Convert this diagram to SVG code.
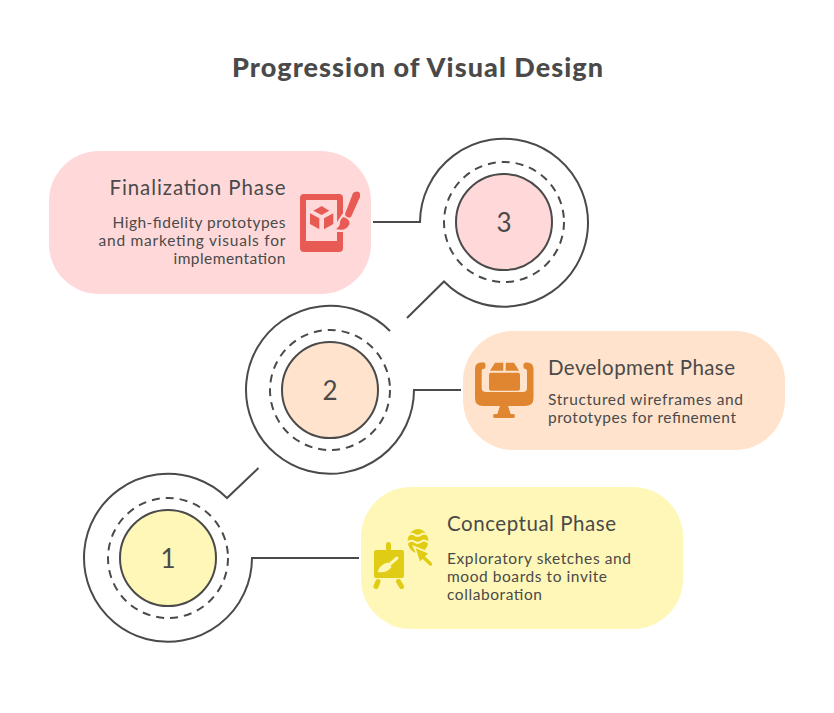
<svg xmlns="http://www.w3.org/2000/svg" width="834" height="713" viewBox="0 0 834 713">
<style>
text{font-family:"Lato","Noto Sans",sans-serif;fill:#4a4a4a}
.title{font-size:27px;font-weight:900;text-anchor:middle}
.head{font-size:20.500px}
.body{font-size:15.500px}
.num{font-size:26px;text-anchor:middle}
.r{text-anchor:end}
.line{fill:none;stroke:#4a4a4a;stroke-width:2}
.dash{fill:none;stroke:#4a4a4a;stroke-width:2;stroke-dasharray:8 6}
.core{stroke:#4a4a4a;stroke-width:2}
</style>
<rect width="834" height="713" fill="#ffffff"/>
<text class="title" x="417.500" y="77" textLength="371">Progression of Visual Design</text>
<g id="connectors">
<path class="line" d="M359 558H252A84 84 0 1 1 227 498L258.500 468"/>
<path class="line" d="M461 390H414A84 84 0 1 1 390 331"/>
<path class="line" d="M373 222H420A84 84 0 1 1 444 281.500L407 318"/>
</g>
<g id="node-1">
<circle class="dash" cx="168" cy="558" r="60"/>
<circle class="core" cx="168" cy="558" r="48" fill="#fff7b8"/>
<text class="num" x="168" y="568">1</text>
</g>
<g id="node-2">
<circle class="dash" cx="330" cy="390" r="60"/>
<circle class="core" cx="330" cy="390" r="48" fill="#ffe3cc"/>
<text class="num" x="330" y="400">2</text>
</g>
<g id="node-3">
<circle class="dash" cx="504" cy="222" r="60"/>
<circle class="core" cx="504" cy="222" r="48" fill="#ffd9d9"/>
<text class="num" x="504" y="232">3</text>
</g>
<g id="card-conceptual">
<rect x="361" y="487" width="322" height="142" rx="50" fill="#fff7b8"/>
<g fill="#e0cc15">
<rect x="374" y="550" width="30" height="28" rx="2"/>
<rect x="386" y="542" width="5" height="9" rx="2.500"/>
<path d="M378 581.500L376 586.500M398.500 581.500L401.500 586.500" stroke="#e0cc15" stroke-width="5" stroke-linecap="round"/>
<path d="M397 558L389 565" stroke="#fff7b8" stroke-width="3" stroke-linecap="round"/>
<path d="M377.500 572Q380 564 388 562.500L391.500 567Q387 573.500 377.500 572Z" fill="#fff7b8"/>
<ellipse cx="418" cy="541" rx="10.300" ry="12"/>
<path d="M407 536Q411 532.500 414 534.500Q418 537.500 422 534Q425 532.500 429 536M407 543Q411 539.500 414 541.500Q418 544.500 422 541Q425 539.500 429 543" fill="none" stroke="#fff7b8" stroke-width="2"/>
<path d="M412 545L432 553L423 568Z" fill="#fff7b8"/>
<path d="M415.700 548.300L428 553.500L420 561.500Z"/>
<path d="M422 556L430.500 564" stroke="#e0cc15" stroke-width="3.500" stroke-linecap="round"/>
</g>
<text class="head" x="447" y="531" textLength="169">Conceptual Phase</text>
<text class="body" x="447" y="564" textLength="184">Exploratory sketches and</text>
<text class="body" x="447" y="582" textLength="160">mood boards to invite</text>
<text class="body" x="447" y="600" textLength="95">collaboration</text>
</g>
<g id="card-development">
<rect x="463" y="331" width="322" height="119" rx="50" fill="#ffe3cc"/>
<g fill="#e08530">
<path d="M475 369Q475 362.500 481 362.500H484Q485.500 362.500 485.500 365V367Q485.500 369 483 369Q481.700 369 481.700 371V388Q481.700 392 486 392H523Q527 392 527 388V371Q527 369 525.500 369Q523.500 369 523.500 367V365Q523.500 362.500 526 362.500H527Q533.500 362.500 533.500 369V398Q533.500 406 525 406H483Q475 406 475 398Z"/>
<path d="M500 406H508L511 415H497Z"/>
<rect x="493" y="414" width="22" height="4" rx="2"/>
<rect x="489" y="372.700" width="31" height="18" rx="2"/>
<path d="M495 362.700H503.300V370.700H490ZM505.700 362.700H514L519 370.700H505.700Z"/>
</g>
<text class="head" x="548" y="375" textLength="187">Development Phase</text>
<text class="body" x="548" y="405" textLength="195">Structured wireframes and</text>
<text class="body" x="548" y="423" textLength="188">prototypes for refinement</text>
</g>
<g id="card-finalization">
<rect x="49" y="151" width="322" height="143" rx="50" fill="#ffd9d9"/>
<g fill="#e85a54">
<path fill-rule="evenodd" d="M304 194H339Q343 194 343 198V248Q343 252 339 252H304Q300 252 300 248V198Q300 194 304 194ZM306 200V241H337V200Z"/>
<path d="M336 212L352 216L344 236L334 232Z" fill="#ffd9d9"/>
<path d="M337 200H343V213L337 222ZM337 232H343V241H337Z"/>
<path d="M353 193Q356 190.500 359 192Q361 194 360 197L351 217Q349.500 218 347 217Q345 216 345 214Z"/>
<path d="M343.500 217Q350 219 349.500 224Q346 232 336 229Q340.500 226 340 221.500Q341 218 343.500 217Z"/>
<path d="M321.700 206L329.300 210.700L321.700 215L313.300 210.700ZM310 213.300L319.300 218.300V229.300L310 224ZM324 218.300L333.300 213.300V224L324 229.300Z"/>
</g>
<text class="head r" x="285.500" y="195" textLength="176">Finalization Phase</text>
<text class="body r" x="285.500" y="228" textLength="173">High-fidelity prototypes</text>
<text class="body r" x="285.500" y="246" textLength="187">and marketing visuals for</text>
<text class="body r" x="285.500" y="264" textLength="112">implementation</text>
</g>
</svg>
